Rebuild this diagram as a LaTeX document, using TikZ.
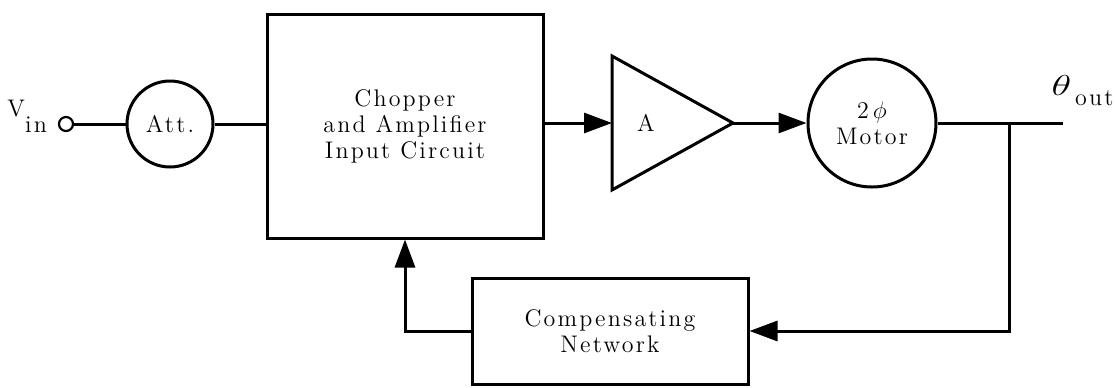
\documentclass[tikz,border=0pt]{standalone}
\usepackage{fontspec}
\setmainfont{Latin Modern Roman}[LetterSpace=9]
\usetikzlibrary{arrows.meta}
\begin{document}
\begin{tikzpicture}[x=0.5pt,y=-0.5pt,line width=1.5pt,
  txt/.style={font=\fontsize{12}{13}\selectfont,align=center,inner sep=0pt},
  blockbox/.style={draw,txt,minimum width=138pt,minimum height=#1},
  roundblock/.style={draw,circle,txt,minimum size=#1},
  arr/.style={-{Triangle[length=14pt,width=10pt]}}]
  \useasboundingbox (0,0) rectangle (1116,387);
  \node[txt,anchor=base west] (vin) at (6,132) {\raisebox{8pt}{V}in};
  \node[draw,circle,line width=1.1pt,minimum size=7pt,inner sep=0pt] (term) at (66,124) {};
  \node[roundblock=43pt] (att) at (170,124) {Att.};
  \node[blockbox=112pt] (chop) at (405,126) {Chopper\\and Amplifier\\Input Circuit};
  \coordinate (ampin) at (612,123);
  \coordinate (ampout) at (733,123);
  \draw[line join=miter] (612,56) -- (ampout) -- (612,190) -- cycle;
  \node[txt] (gain) at (646,123) {A};
  \node[roundblock=64pt] (motor) at (872,123) {2\,$\phi$\\Motor};
  \coordinate (tap) at (1009,123);
  \coordinate (outend) at (1063,123);
  \node[txt,anchor=base west] (thout) at (1050,105) {\raisebox{5pt}{\scalebox{1.7}[1.2]{$\theta$}}\,out};
  \node[blockbox=53pt] (comp) at (610,331) {Compensating\\Network};
  \draw (term) -- (att);
  \draw (att) -- (att -| chop.west);
  \draw[arr] (chop.east |- ampin) -- (ampin);
  \draw[arr] (ampout) -- (motor.west);
  \draw (motor.east) -- (outend);
  \draw[arr] (tap) |- (comp.east);
  \draw[arr] (comp.west) -| (chop.south);
\end{tikzpicture}
\end{document}
